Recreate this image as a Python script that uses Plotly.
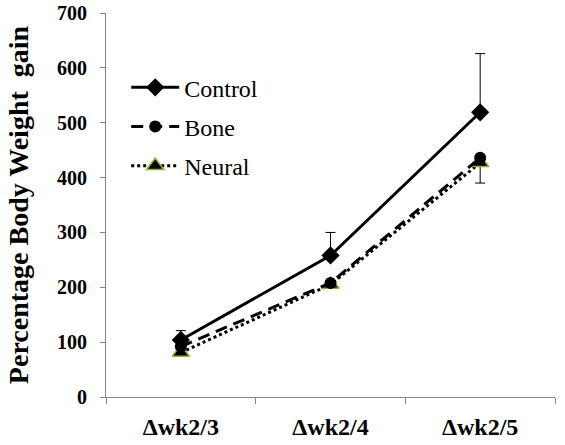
import plotly.graph_objects as go

categories = ["Δwk2/3", "Δwk2/4", "Δwk2/5"]
control = [104, 258, 519]
control_err = [17, 42, 107]
bone = [92, 208, 436]
neural = [81, 205, 427]
neural_err = [0, 0, 37]
y_ticks = [0, 100, 200, 300, 400, 500, 600, 700]

font_family = "Times New Roman, Liberation Serif, serif"

fig = go.Figure()

fig.add_trace(go.Scatter(
    x=categories, y=control, name="Control", legendgroup="c", legendrank=1,
    mode="lines+markers",
    line=dict(color="black", width=3),
    marker=dict(symbol="diamond", size=14, color="black"),
    error_y=dict(type="data", array=control_err, arrayminus=[0, 0, 0],
                 symmetric=False, color="black", thickness=1, width=5),
))
fig.add_trace(go.Scatter(
    x=categories, y=neural, name="Neural", legendgroup="n", legendrank=3,
    mode="lines+markers",
    line=dict(color="black", width=3, dash="dot"),
    marker=dict(symbol="triangle-up", size=15, color="black",
                line=dict(color="#8DB33A", width=1.5)),
    error_y=dict(type="data", array=[0, 0, 0], arrayminus=neural_err,
                 symmetric=False, color="black", thickness=1, width=5),
))
fig.add_trace(go.Scatter(
    x=categories, y=bone, name="Bone", legendgroup="b", legendrank=2,
    mode="lines+markers",
    line=dict(color="black", width=3, dash="12px,7px"),
    marker=dict(symbol="circle", size=12, color="black"),
))

fig.update_layout(
    width=565, height=445,
    margin=dict(l=106, r=10, t=13, b=48),
    paper_bgcolor="white", plot_bgcolor="white",
    font=dict(family=font_family, color="black"),
    showlegend=True,
    legend=dict(
        x=0.045, y=0.864, xanchor="left", yanchor="top",
        font=dict(size=24, family=font_family, color="black"),
        tracegroupgap=5, bgcolor="rgba(0,0,0,0)",
        itemwidth=48, traceorder="grouped",
    ),
    xaxis=dict(
        type="category", tickson="boundaries", ticks="outside", ticklen=6,
        tickcolor="#868686", showline=True, linecolor="#868686", linewidth=1,
        showgrid=False, range=[-0.5, 2.5], automargin=False,
        ticklabelstandoff=8,
        tickfont=dict(size=24, family=font_family, weight="bold"),
    ),
    yaxis=dict(
        range=[0, 700], tickvals=y_ticks, ticks="outside", ticklen=5,
        tickcolor="#868686", showline=True, linecolor="#868686", linewidth=1,
        showgrid=False, zeroline=False, automargin=False,
        ticklabelstandoff=9,
        tickfont=dict(size=20, family=font_family, weight="bold"),
        title=dict(text="Percentage Body Weight  gain",
                   font=dict(size=28, family=font_family, weight="bold"),
                   standoff=20),
    ),
)

fig.write_html("out.html")
